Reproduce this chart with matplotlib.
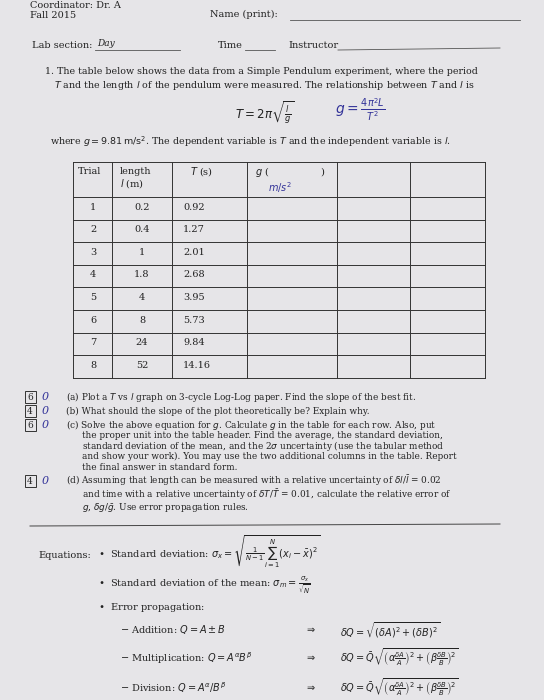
import matplotlib
matplotlib.use("Agg")
import matplotlib.pyplot as plt

trials = [1, 2, 3, 4, 5, 6, 7, 8]
length_m = ["0.2", "0.4", "1", "1.8", "4", "8", "24", "52"]
period_s = ["0.92", "1.27", "2.01", "2.68", "3.95", "5.73", "9.84", "14.16"]

fig = plt.figure(figsize=(5.44, 7.0), dpi=100)
fig.patch.set_facecolor("#e6e5e8")
ax = fig.add_axes([0, 0, 1, 1])
ax.set_xlim(0, 544); ax.set_ylim(700, 0); ax.axis("off")
F = "DejaVu Serif"
def t(x, y, s, size=7.5, **kw):
    kw.setdefault("family", F)
    kw.setdefault("color", "#222222")
    ax.text(x, y, s, fontsize=size, va="center", **kw)

t(30, 6, "Coordinator: Dr. A", 7)
t(30, 16, "Fall 2015", 7)
t(210, 14, "Name (print):", 7)
ax.plot([290, 520], [20, 20], color="#555", lw=0.6)
t(32, 46, "Lab section:", 7); t(97, 43, "Day", 6.5, style="italic")
ax.plot([95, 180], [50, 50], color="#555", lw=0.6)
t(218, 46, "Time", 7); ax.plot([245, 275], [50, 50], color="#555", lw=0.6)
t(288, 46, "Instructor", 7); ax.plot([338, 500], [50, 48], color="#555", lw=0.6)
t(45, 72, "1. The table below shows the data from a Simple Pendulum experiment, where the period", 6.8)
t(54, 86, r"$T$ and the length $l$ of the pendulum were measured. The relationship between $T$ and $l$ is", 6.8)
t(235, 112, r"$T = 2\pi\sqrt{\frac{l}{g}}$", 8.5)
t(335, 110, r"$g=\frac{4\pi^2 L}{T^2}$", 10, color="#333399")
t(50, 142, r"where $g = 9.81\,\mathrm{m/s^2}$. The dependent variable is $T$ and the independent variable is $l$.", 6.8)

xs = [73, 112, 172, 247, 337, 410, 485]
top, hb = 162, 197
rh = 22.6
bottom = hb + rh * len(trials)
for x in xs:
    ax.plot([x, x], [top, bottom], color="#333", lw=0.7)
ax.plot([73, 485], [top, top], color="#333", lw=0.7)
ax.plot([73, 485], [hb, hb], color="#333", lw=0.7)
for i in range(len(trials)):
    y = hb + rh * (i + 1)
    ax.plot([73, 485], [y, y], color="#333", lw=0.7)
t(78, 172, "Trial", 7)
t(120, 172, "length", 7); t(120, 184, r"$l$ (m)", 7)
t(190, 172, r"$T$ (s)", 7)
t(255, 172, r"$g$ (", 7); t(320, 172, ")", 7)
t(268, 188, r"$m/s^2$", 7, color="#333399")
for i, (tr, l, p) in enumerate(zip(trials, length_m, period_s)):
    y = hb + rh * (i + 0.45)
    t(90, y, str(tr), 7)
    t(142, y, l, 7, ha="center")
    t(183, y, p, 7)

qs = [
    (397, 13, ["(a) Plot a $T$ vs $l$ graph on 3-cycle Log-Log paper. Find the slope of the best fit."]),
    (411, 13, ["(b) What should the slope of the plot theoretically be? Explain why."]),
    (425, 10.5, ["(c) Solve the above equation for $g$. Calculate $g$ in the table for each row. Also, put",
           "the proper unit into the table header. Find the average, the standard deviation,",
           "standard deviation of the mean, and the 2$\\sigma$ uncertainty (use the tabular method",
           "and show your work). You may use the two additional columns in the table. Report",
           "the final answer in standard form."]),
    (481, 13.5, ["(d) Assuming that length can be measured with a relative uncertainty of $\\delta l/\\bar{l}$ = 0.02",
           "and time with a relative uncertainty of $\\delta T/\\bar{T}$ = 0.01, calculate the relative error of",
           "$g$, $\\delta g/\\bar{g}$. Use error propagation rules."]),
]
marks = ["6", "4", "6", "4"]
for (y0, sp, lines), m in zip(qs, marks):
    ax.add_patch(plt.Rectangle((25, y0 - 6), 11, 12, fill=False, lw=0.7, color="#333"))
    t(27, y0, m, 6.5)
    t(42, y0, "0", 8, color="#333399", style="italic")
    for k, s in enumerate(lines):
        t(66 if k == 0 else 82, y0 + k * sp, s, 6.4)
ax.plot([30, 500], [526, 524], color="#444", lw=0.7)

t(38, 556, "Equations:", 7)
t(98, 552, r"$\bullet$  Standard deviation: $\sigma_x = \sqrt{\frac{1}{N-1}\sum_{i=1}^{N}(x_i-\bar{x})^2}$", 7)
t(98, 585, r"$\bullet$  Standard deviation of the mean: $\sigma_m = \frac{\sigma_x}{\sqrt{N}}$", 7)
t(98, 608, r"$\bullet$  Error propagation:", 7)
t(120, 630, r"$-$ Addition: $Q = A \pm B$", 7)
t(305, 630, r"$\Rightarrow$", 7)
t(340, 630, r"$\delta Q = \sqrt{(\delta A)^2 + (\delta B)^2}$", 7)
t(120, 658, r"$-$ Multiplication: $Q = A^\alpha B^\beta$", 7)
t(305, 658, r"$\Rightarrow$", 7)
t(340, 658, r"$\delta Q = \bar{Q}\sqrt{\left(\alpha\frac{\delta A}{A}\right)^2+\left(\beta\frac{\delta B}{B}\right)^2}$", 7)
t(120, 688, r"$-$ Division: $Q = A^\alpha / B^\beta$", 7)
t(305, 688, r"$\Rightarrow$", 7)
t(340, 688, r"$\delta Q = \bar{Q}\sqrt{\left(\alpha\frac{\delta A}{A}\right)^2+\left(\beta\frac{\delta B}{B}\right)^2}$", 7)

fig.savefig("out.png", dpi=100, facecolor=fig.get_facecolor())
